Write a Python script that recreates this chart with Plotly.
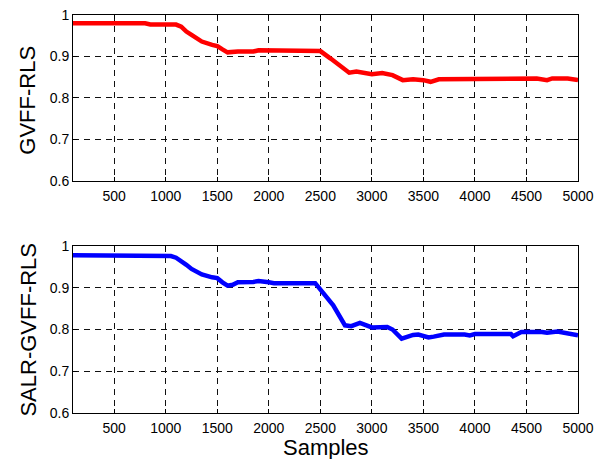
import plotly.graph_objects as go
from plotly.subplots import make_subplots

# Data
gvff_x = [100, 800, 850, 1100, 1150, 1200, 1250, 1350, 1450, 1500, 1550, 1600, 1700, 1850, 1900,
          2450, 2500, 2600, 2700, 2780, 2850, 2950, 3000, 3100, 3200, 3300, 3400, 3500, 3570,
          3650, 4400, 4450, 4600, 4700, 4750, 4900, 5000]
gvff_y = [0.98, 0.98, 0.977, 0.977, 0.972, 0.96, 0.952, 0.936, 0.928, 0.925, 0.917, 0.910, 0.912, 0.912, 0.915,
          0.915, 0.913, 0.895, 0.877, 0.861, 0.864, 0.861, 0.857, 0.860, 0.855, 0.843, 0.845, 0.843, 0.839,
          0.845, 0.845, 0.847, 0.847, 0.843, 0.847, 0.847, 0.843]

salr_x = [100, 750, 800, 1050, 1100, 1150, 1200, 1250, 1350, 1450, 1500, 1550, 1600, 1650, 1700, 1850,
          1900, 2000, 2050, 2450, 2625, 2739, 2800, 2884, 2950, 3000, 3149, 3200, 3289, 3400, 3450,
          3550, 3600, 3700, 3900, 3950, 4000, 4350, 4370, 4450, 4650, 4700, 4800, 4900, 5000]
salr_y = [0.978, 0.978, 0.976, 0.976, 0.972, 0.965, 0.955, 0.945, 0.932, 0.925, 0.923, 0.913, 0.905, 0.907, 0.913, 0.914,
          0.916, 0.913, 0.911, 0.911, 0.858, 0.810, 0.808, 0.816, 0.810, 0.805, 0.806, 0.800, 0.778, 0.787, 0.788,
          0.781, 0.783, 0.788, 0.788, 0.786, 0.789, 0.789, 0.784, 0.794, 0.794, 0.792, 0.795, 0.790, 0.786]

x_ticks = [500, 1000, 1500, 2000, 2500, 3000, 3500, 4000, 4500, 5000]
y_ticks = [0.6, 0.7, 0.8, 0.9, 1.0]
y_ticktext = ["0.6", "0.7", "0.8", "0.9", "1"]

fig = make_subplots(rows=2, cols=1, vertical_spacing=0.0)
fig.add_trace(go.Scatter(x=gvff_x, y=gvff_y, mode="lines",
                         line=dict(color="#ff0000", width=4.5)), row=1, col=1)
fig.add_trace(go.Scatter(x=salr_x, y=salr_y, mode="lines",
                         line=dict(color="#0000ff", width=4.5)), row=2, col=1)

font = "Liberation Sans, Arial, sans-serif"
axis_common = dict(showline=True, linecolor="black", linewidth=1, mirror="ticks",
                   showgrid=True, gridcolor="#111111", gridwidth=1, griddash="6px,5px",
                   zeroline=False, ticks="inside", ticklen=4, tickcolor="black", tickwidth=1,
                   automargin=False, ticklabeloverflow="allow",
                   tickfont=dict(size=14, color="black", family=font))

fig.update_xaxes(range=[100, 5000], tickvals=x_ticks, ticklabelstandoff=2, **axis_common)
fig.update_yaxes(range=[0.6, 1.0], tickvals=y_ticks, ticktext=y_ticktext, **axis_common)

# The page body adds an 8px offset; the figure is sized to fit the 602x459 window.
fig.update_layout(
    width=594, height=451,
    margin=dict(l=65, r=24, t=7, b=46),
    paper_bgcolor="white", plot_bgcolor="white",
    showlegend=False,
    font=dict(family=font, color="black"),
    xaxis=dict(domain=[0, 1]),
    yaxis=dict(domain=[0.583, 1.0]),
    xaxis2=dict(domain=[0, 1]),
    yaxis2=dict(domain=[0.0, 0.4196]),
    annotations=[
        dict(text="GVFF-RLS", xref="paper", yref="paper", x=-0.090, y=0.786,
             xanchor="center", yanchor="middle", textangle=-90, showarrow=False,
             font=dict(size=22, color="black", family=font)),
        dict(text="SALR-GVFF-RLS", xref="paper", yref="paper", x=-0.090, y=0.2085,
             xanchor="center", yanchor="middle", textangle=-90, showarrow=False,
             font=dict(size=22, color="black", family=font)),
        dict(text="Samples", xref="paper", yref="paper", x=0.5, y=-0.086,
             xanchor="center", yanchor="middle", showarrow=False,
             font=dict(size=22, color="black", family=font)),
    ],
)

fig.write_html("out.html")
